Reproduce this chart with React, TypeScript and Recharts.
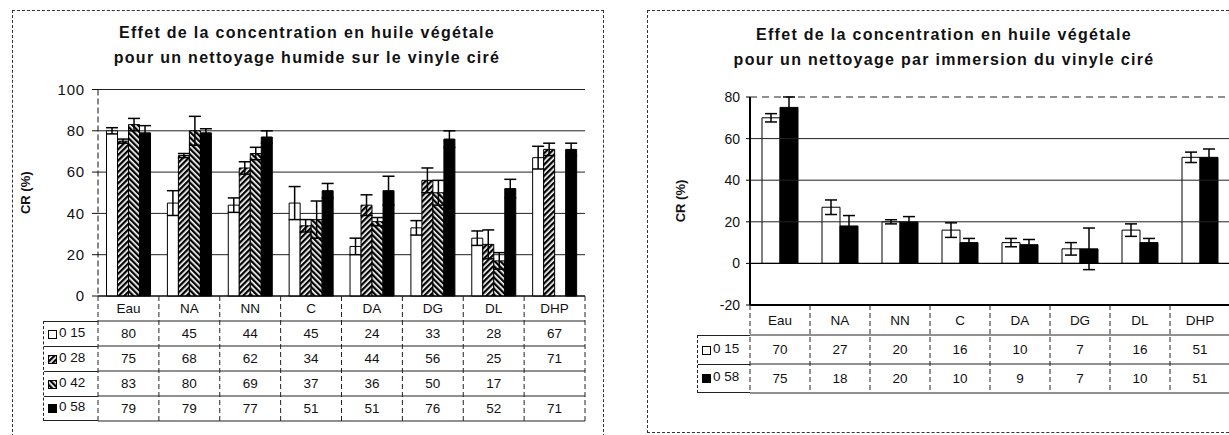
import React from "react";
import {
  BarChart,
  Bar,
  XAxis,
  YAxis,
  CartesianGrid,
  ErrorBar,
  Legend,
  ReferenceLine,
} from "recharts";

const categories = ["Eau", "NA", "NN", "C", "DA", "DG", "DL", "DHP"];

// nettoyage humide
const wetNames = ["0 15", "0 28", "0 42", "0 58"];
const wet015 = [80, 45, 44, 45, 24, 33, 28, 67];
const wet028 = [75, 68, 62, 34, 44, 56, 25, 71];
const wet042 = [83, 80, 69, 37, 36, 50, 17, null];
const wet058 = [79, 79, 77, 51, 51, 76, 52, 71];
const wetErr015 = [1.5, 6, 3.5, 8, 4, 3.5, 3.5, 5.5];
const wetErr028 = [1, 1, 3, 3, 5, 6, 7, 3];
const wetErr042 = [3, 7, 3, 9, 2, 6, 4, null];
const wetErr058 = [3.5, 2, 3, 3.5, 7, 4, 4.5, 3];
const wetTicks = [0, 20, 40, 60, 80, 100];

// nettoyage par immersion
const dipNames = ["0 15", "0 58"];
const dip015 = [70, 27, 20, 16, 10, 7, 16, 51];
const dip058 = [75, 18, 20, 10, 9, 7, 10, 51];
const dipErr015 = [2, 3.5, 1, 3.5, 2, 3, 3, 2.5];
const dipErr058 = [5, 5, 2.5, 2, 2.5, 10, 2, 4];
const dipTicks = [-20, 0, 20, 40, 60, 80];

const FONT = '"Liberation Sans", Arial, sans-serif';
const wetFills = ["#fff", "url(#hatchA)", "url(#hatchB)", "#000"];
const dipFills = ["#fff", "#000"];

const wetRows = [wet015, wet028, wet042, wet058];
const wetErrs = [wetErr015, wetErr028, wetErr042, wetErr058];
const dipRows = [dip015, dip058];
const dipErrs = [dipErr015, dipErr058];

function buildData(rows: (number | null)[][], errs: (number | null)[][]) {
  return categories.map((cat, i) => {
    const d: any = { cat };
    rows.forEach((r, k) => {
      d["s" + k] = r[i];
      d["e" + k] = errs[k][i];
    });
    return d;
  });
}

const wetData = buildData(wetRows, wetErrs);
const dipData = buildData(dipRows, dipErrs);

function TableTick(props: any) {
  const { x, y, payload, rows, headH, rowH, bw } = props;
  const half = payload.offset || bw / 2;
  const i = categories.indexOf(payload.value);
  const l = x - half;
  const r = x + half;
  const bottom = y + headH + rows.length * rowH;
  return (
    <g fontSize={13.5} fill="#111">
      <text x={x} y={y + headH / 2} textAnchor="middle" dominantBaseline="central">
        {payload.value}
      </text>
      {i === 0 && (
        <line x1={l} x2={l} y1={y} y2={bottom} stroke="#222" strokeDasharray="5 3" />
      )}
      <line x1={r} x2={r} y1={y} y2={bottom} stroke="#222" strokeDasharray="5 3" />
      {rows.map((_: any, k: number) => (
        <line
          key={k}
          x1={l}
          x2={r}
          y1={y + headH + k * rowH}
          y2={y + headH + k * rowH}
          stroke="#222"
        />
      ))}
      <line x1={l} x2={r} y1={bottom} y2={bottom} stroke="#222" />
      {rows.map((vals: (number | null)[], k: number) =>
        vals[i] == null ? null : (
          <text
            key={"v" + k}
            x={x}
            y={y + headH + k * rowH + rowH / 2}
            textAnchor="middle"
            dominantBaseline="central"
          >
            {vals[i]}
          </text>
        )
      )}
    </g>
  );
}

function TableLegend({ names, fills, rowH }: { names: string[]; fills: string[]; rowH: number }) {
  return (
    <div style={{ fontSize: 13.5, fontFamily: FONT, color: "#111", borderLeft: "1px dashed #222" }}>
      {names.map((n, k) => (
        <div
          key={n}
          style={{
            height: rowH,
            boxSizing: "border-box",
            borderTop: "1px solid #222",
            borderBottom: k === names.length - 1 ? "1px solid #222" : undefined,
            display: "flex",
            alignItems: "center",
            paddingLeft: 4,
            gap: 2,
          }}
        >
          <svg width={9} height={9}>
            <rect x={0.5} y={0.5} width={8} height={8} fill={fills[k]} stroke="#000" />
          </svg>
          <span style={{ marginTop: -4 }}>{n}</span>
        </div>
      ))}
    </div>
  );
}

function Title({ lines, left, top }: { lines: string[]; left: number; top: number }) {
  return (
    <div
      style={{
        position: "absolute",
        left,
        top,
        width: 600,
        textAlign: "center",
        fontWeight: "bold",
        fontSize: 16,
        letterSpacing: 1.3,
        lineHeight: "25px",
        color: "#111",
      }}
    >
      {lines.map((t) => (
        <div key={t}>{t}</div>
      ))}
    </div>
  );
}

function WetChart() {
  return (
    <div style={{ position: "absolute", left: 0, top: 0 }}>
      <BarChart
        width={605}
        height={435}
        data={wetData}
        margin={{ top: 89.5, right: 20, left: 18, bottom: 9 }}
        barCategoryGap="14%"
        barGap={0}
      >
        <CartesianGrid vertical={false} stroke="#222" />
        <XAxis
          dataKey="cat"
          height={130}
          interval={0}
          tickSize={0}
          tickMargin={0}
          axisLine={{ stroke: "#000" }}
          tick={(p: any) => <TableTick {...p} rows={wetRows} headH={25} rowH={25} bw={60.9} />}
        />
        <YAxis
          width={80}
          domain={[0, 100]}
          ticks={wetTicks}
          interval={0}
          tickSize={6}
          tickMargin={7}
          axisLine={{ stroke: "#111", strokeDasharray: "6 3" }}
          tickLine={{ stroke: "#111" }}
          tick={{ fontSize: 15, fill: "#111", letterSpacing: 0.8 }}
          label={{
            value: "CR (%)",
            angle: -90,
            position: "insideLeft",
            offset: 7,
            style: { textAnchor: "middle", fontWeight: "bold", fontSize: 13, fill: "#111" },
          }}
        />
        <YAxis
          yAxisId="r"
          orientation="right"
          width={0}
          domain={[0, 100]}
          tick={false}
          tickLine={false}
          axisLine={{ stroke: "#333", strokeDasharray: "6 4" }}
        />
        {wetNames.map((n, k) => (
          <Bar
            key={n}
            dataKey={"s" + k}
            name={n}
            fill={wetFills[k]}
            stroke="#000"
            strokeWidth={1}
            isAnimationActive={false}
          >
            <ErrorBar dataKey={"e" + k} direction="y" width={6} stroke="#000" strokeWidth={1.5} />
          </Bar>
        ))}
        <Legend
          layout="vertical"
          align="center"
          verticalAlign="middle"
          wrapperStyle={{ left: 43, top: 321, width: 55 }}
          content={() => <TableLegend names={wetNames} fills={wetFills} rowH={25} />}
        />
      </BarChart>
    </div>
  );
}

function DipChart() {
  return (
    <div style={{ position: "absolute", left: 615, top: 0 }}>
      <BarChart
        width={640}
        height={435}
        data={dipData}
        margin={{ top: 97, right: 25, left: 55, bottom: 5 }}
        barCategoryGap="20%"
        barGap={0}
      >
        {dipTicks
          .filter((t) => t > 0)
          .map((t) => (
            <ReferenceLine
              key={t}
              y={t}
              stroke="#222"
              strokeDasharray={t === 80 ? "7 5" : undefined}
            />
          ))}
        <ReferenceLine y={0} stroke="#000" strokeWidth={1.3} />
        <XAxis
          dataKey="cat"
          height={125}
          interval={0}
          tickSize={0}
          tickMargin={0}
          axisLine={{ stroke: "#000", strokeWidth: 2 }}
          tick={(p: any) => <TableTick {...p} rows={dipRows} headH={30} rowH={29} bw={60} />}
        />
        <YAxis
          width={80}
          domain={[-20, 80]}
          ticks={dipTicks}
          interval={0}
          tickSize={4}
          tickMargin={6}
          axisLine={{ stroke: "#000", strokeWidth: 2 }}
          tickLine={{ stroke: "#000" }}
          tick={{ fontSize: 14, fill: "#111" }}
          label={{
            value: "CR (%)",
            angle: -90,
            position: "insideLeft",
            offset: 10,
            style: { textAnchor: "middle", fontWeight: "bold", fontSize: 13, fill: "#111" },
          }}
        />
        {dipNames.map((n, k) => (
          <Bar
            key={n}
            dataKey={"s" + k}
            name={n}
            fill={dipFills[k]}
            stroke="#000"
            strokeWidth={1}
            isAnimationActive={false}
          >
            <ErrorBar dataKey={"e" + k} direction="y" width={6} stroke="#000" strokeWidth={1.5} />
          </Bar>
        ))}
        <Legend
          layout="vertical"
          align="center"
          verticalAlign="middle"
          wrapperStyle={{ left: 82, top: 335, width: 53 }}
          content={() => <TableLegend names={dipNames} fills={dipFills} rowH={29} />}
        />
      </BarChart>
    </div>
  );
}

export default function App() {
  return (
    <div
      style={{
        position: "fixed",
        left: 0,
        top: 0,
        width: 1229,
        height: 435,
        overflow: "hidden",
        background: "#fff",
        fontFamily: FONT,
      }}
    >
      <svg width={0} height={0} style={{ position: "absolute" }}>
        <defs>
          <pattern id="hatchA" patternUnits="userSpaceOnUse" width={4} height={4} patternTransform="rotate(45)">
            <rect width={4} height={4} fill="#fff" />
            <rect width={2.3} height={4} fill="#000" />
          </pattern>
          <pattern id="hatchB" patternUnits="userSpaceOnUse" width={4} height={4} patternTransform="rotate(-45)">
            <rect width={4} height={4} fill="#fff" />
            <rect width={2.3} height={4} fill="#000" />
          </pattern>
        </defs>
      </svg>
      <div
        style={{
          position: "absolute",
          left: 12,
          top: 10,
          width: 590,
          height: 440,
          border: "1px dashed #333",
        }}
      />
      <div
        style={{
          position: "absolute",
          left: 647,
          top: 10,
          width: 620,
          height: 421,
          border: "1px dashed #333",
        }}
      />
      <Title
        lines={["Effet de la concentration en huile végétale", "pour un nettoyage humide sur le vinyle ciré"]}
        left={7}
        top={20}
      />
      <Title
        lines={["Effet de la concentration en huile végétale", "pour un nettoyage par immersion du vinyle ciré"]}
        left={644}
        top={22}
      />
      <WetChart />
      <DipChart />
    </div>
  );
}
